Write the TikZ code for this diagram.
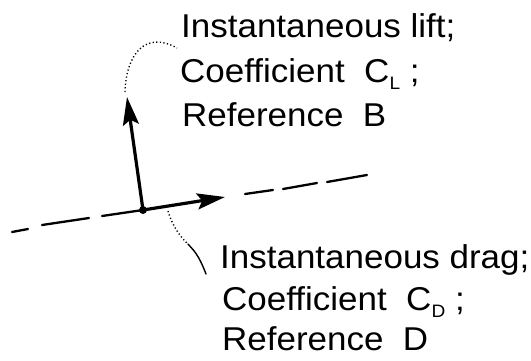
\documentclass[tikz,border=0pt]{standalone}
\usepackage{fontspec}
\newfontfamily\hand[FakeStretch=1.06]{Liberation Sans}
\usetikzlibrary{arrows.meta}
\newcommand{\lowsub}[1]{\raisebox{-0.45ex}{\fontsize{18}{18}\selectfont #1}}
\begin{document}
\begin{tikzpicture}[x=1pt,y=-1pt,
  txt/.style={font=\hand\fontsize{33}{38}\selectfont, inner sep=0pt, anchor=base west},
  force/.style={line width=3.2pt, -{Stealth[length=28pt,width=16pt,inset=5pt]}},
  axisdash/.style={line width=2.3pt, line cap=round},
  leader/.style={line width=1.4pt, dash pattern=on 1.2pt off 2.4pt},
  hook/.style={line width=1.4pt, line cap=round}]
\useasboundingbox (0,0) rectangle (531,360);
% coordinates
\coordinate (O) at (143,210);
\coordinate (L) at (127,97);
\coordinate (D) at (225,197);
% dashed axis
\coordinate (a1) at (12,232);  \coordinate (a2) at (28,229);
\coordinate (a3) at (42,225);  \coordinate (a4) at (89,218);
\coordinate (a5) at (102,216);
\coordinate (b1) at (245,194); \coordinate (b2) at (273,190);
\coordinate (b3) at (283,189); \coordinate (b4) at (317,183);
\coordinate (b5) at (327,182); \coordinate (b6) at (367,175);
\draw[axisdash] (a1) -- (a2);
\draw[axisdash] (a3) -- (a4);
\draw[axisdash] (a5) -- (O);
\draw[axisdash] (b1) -- (b2);
\draw[axisdash] (b3) -- (b4);
\draw[axisdash] (b5) -- (b6);
% forces
\draw[force] (O) -- (L);
\draw[force] (O) -- (D);
\fill (O) circle (4pt);
% texts
\node[txt] (l1) at (181,37) {Instantaneous lift;};
\node[txt] (l2) at (180,82) {Coefficient\ \ C\lowsub{L} ;};
\node[txt] (l3) at (182,126) {Reference\ \ B};
\node[txt] (d1) at (220,268) {Instantaneous drag;};
\node[txt] (d2) at (222,310) {Coefficient\ \ C\lowsub{D} ;};
\node[txt] (d3) at (222,350) {Reference\ \ D};
% leaders
\coordinate (lf) at (125,92);
\coordinate (df) at (168,211);
\coordinate (dh) at (188,244);
\draw[leader] (lf) .. controls (126,55) and (145,30) .. ([xshift=-4pt,yshift=-11pt]l1.base west);
\draw[leader] (df) .. controls (172,225) and (180,237) .. (dh);
\draw[hook] (dh) .. controls (193,250) and (198,253) .. ([xshift=-14pt,yshift=-6pt]d1.base west);
\end{tikzpicture}
\end{document}
